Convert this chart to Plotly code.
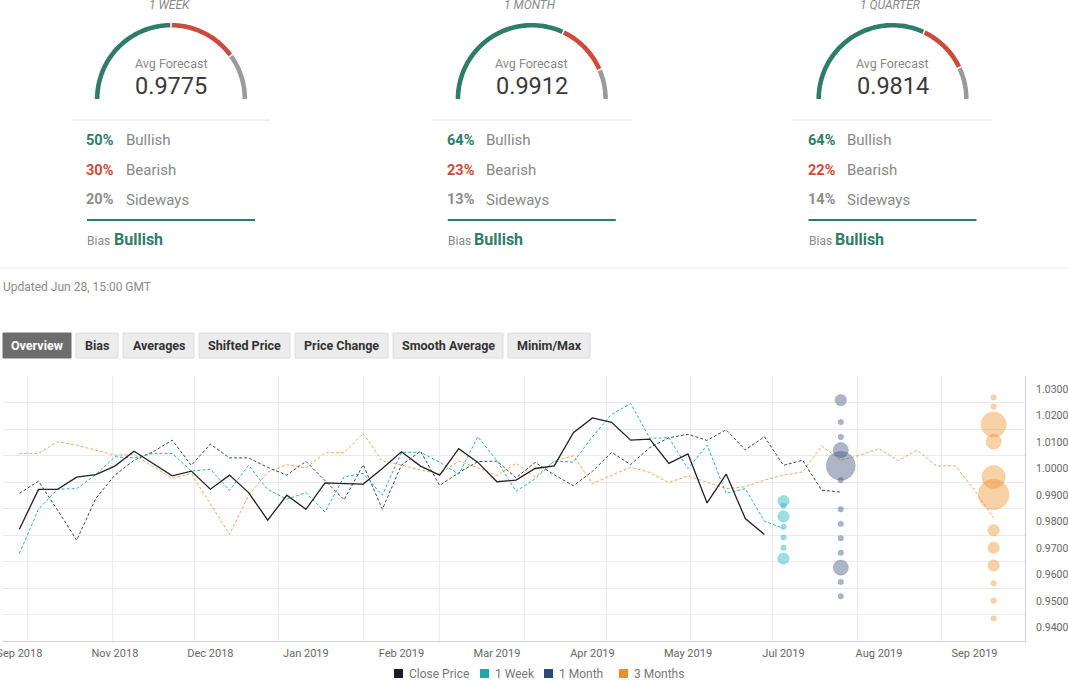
import math
import numpy as np
import pandas as pd
import plotly.graph_objects as go

# ---------------- DATA ----------------
first_friday = "2018-09-28"

close_price = [0.9772, 0.9922, 0.9922, 0.9968, 0.9978, 1.0010, 1.0066, 1.0020, 0.9973, 0.9991,
               0.9923, 0.9976, 0.9910, 0.9806, 0.9900, 0.9847, 0.9947, 0.9944, 0.9942, 1.0001,
               1.0064, 1.0010, 0.9976, 1.0076, 1.0024, 0.9951, 0.9957, 1.0001, 1.0011, 1.0136,
               1.0192, 1.0175, 1.0108, 1.0112, 1.0020, 1.0056, 0.9871, 0.9980, 0.9812, 0.9752]

week1 = [0.9680, 0.9847, 0.9923, 0.9925, 0.9978, 1.0045, 1.0041, 1.0058, 1.0058, 0.9991,
         0.9998, 0.9918, 1.0013, 0.9922, 0.9885, 0.9910, 0.9837, 0.9970, 0.9982, 0.9900,
         1.0062, 1.0062, 1.0025, 0.9979, 1.0121, 1.0030, 0.9915, 0.9962, 1.0029, 1.0025,
         1.0121, 1.0205, 1.0246, 1.0115, 1.0117, 1.0001, 1.0089, 0.9907, 0.9925, 0.9802,
         0.9775]

month1 = [0.9907, 0.9953, 0.9844, 0.9730, 0.9888, 0.9976, 1.0032, 1.0064, 1.0108, 1.0013,
          1.0093, 1.0041, 1.0041, 1.0005, 0.9976, 1.0028, 0.9955, 0.9883, 1.0015, 0.9847,
          1.0014, 1.0066, 0.9937, 0.9985, 1.0027, 1.0029, 0.9966, 1.0024, 0.9977, 0.9936,
          0.9990, 1.0062, 1.0016, 1.0080, 1.0117, 1.0130, 1.0107, 1.0147, 1.0071, 1.0121,
          1.0013, 1.0032, 0.9919, 0.9912]

months3 = [1.0058, 1.0058, 1.0102, 1.0089, 1.0070, 1.0051, 1.0054, 1.0007, 0.9963, 0.9982,
           0.9869, 0.9752, 0.9900, 0.9987, 1.0015, 1.0003, 1.0060, 1.0061, 1.0133, 1.0029,
           1.0014, 0.9995, 0.9980, 1.0029, 1.0004, 0.9974, 1.0020, 0.9969, 1.0029, 1.0049,
           0.9944, 0.9976, 1.0006, 0.9986, 0.9948, 0.9973, 0.9948, 0.9925, 0.9932, 0.9957,
           0.9976, 0.9988, 1.0086, 1.0032, 1.0051, 1.0076, 1.0031, 1.0070, 1.0011, 1.0011,
           0.9919, 0.9814]

week1_forecasts = [0.9878, 0.9860, 0.9820, 0.9781, 0.9741, 0.9702, 0.9661]
week1_counts = [2, 1, 2, 1, 1, 1, 2]
month1_forecasts = [1.0259, 1.0176, 1.0120, 1.0070, 1.0011, 0.9957, 0.9847, 0.9792,
                    0.9738, 0.9683, 0.9627, 0.9573, 0.9519]
month1_counts = [2, 1, 1, 3, 9, 1, 1, 1, 1, 1, 3, 1, 1]
months3_forecasts = [1.0269, 1.0235, 1.0167, 1.0102, 0.9969, 0.9903, 0.9768, 0.9702,
                     0.9635, 0.9568, 0.9502, 0.9435]
months3_counts = [1, 1, 7, 3, 6, 10, 2, 2, 2, 1, 1, 1]

gauge_titles = ["1 WEEK", "1 MONTH", "1 QUARTER"]
avg_forecast = [0.9775, 0.9912, 0.9814]
bullish_pct = [50, 64, 64]
bearish_pct = [30, 23, 22]
sideways_pct = [20, 13, 14]
bias_labels = ["Bullish", "Bullish", "Bullish"]

x_tick_dates = ["2018-09-28", "2018-11-02", "2018-12-07", "2019-01-11", "2019-02-15",
                "2019-03-22", "2019-04-26", "2019-05-31", "2019-07-05", "2019-08-09",
                "2019-09-13"]
x_tick_labels = ["Sep 2018", "Nov 2018", "Dec 2018", "Jan 2019", "Feb 2019", "Mar 2019",
                 "Apr 2019", "May 2019", "Jul 2019", "Aug 2019", "Sep 2019"]
y_tick_values = [0.94, 0.95, 0.96, 0.97, 0.98, 0.99, 1.00, 1.01, 1.02, 1.03]

series_names = ["Close Price", "1 Week", "1 Month", "3 Months"]
button_labels = ["Overview", "Bias", "Averages", "Shifted Price", "Price Change",
                 "Smooth Average", "Minim/Max"]
updated_text = "Updated Jun 28, 15:00 GMT"

# ---------------- STYLE ----------------
W, H = 1068, 681
ML, MR, MT, MB = 3, 43, 376, 40
PW, PH = W - ML - MR, H - MT - MB
FONT = "Roboto"
GREEN, RED, GREY = "#2e7d69", "#cc4b3c", "#9b9b9b"
C_CLOSE, C_W, C_M, C_Q = "#222222", "#2fb0b5", "#3b4a60", "#f2a65e"
LEG_COLORS = ["#1c1c28", "#1fa7aa", "#2c4a75", "#e8902c"]
Y_RANGE = [0.935, 1.035]
X_RANGE = ["2018-09-22", "2019-10-01 12:00"]


def P(x, y):
    return (x - ML) / PW, (H - MB - y) / PH


dates = pd.date_range(first_friday, periods=len(months3), freq="7D")

fig = go.Figure()
dash = "3px,2px"
fig.add_trace(go.Scatter(x=dates[:len(months3)], y=months3, mode="lines", name="3 Months",
                         line=dict(color=C_Q, width=1, dash=dash), hoverinfo="skip"))
fig.add_trace(go.Scatter(x=dates[:len(month1)], y=month1, mode="lines", name="1 Month",
                         line=dict(color=C_M, width=1, dash=dash), hoverinfo="skip"))
fig.add_trace(go.Scatter(x=dates[:len(week1)], y=week1, mode="lines", name="1 Week",
                         line=dict(color=C_W, width=1, dash=dash), hoverinfo="skip"))
fig.add_trace(go.Scatter(x=dates[:len(close_price)], y=close_price, mode="lines",
                         name="Close Price", line=dict(color=C_CLOSE, width=1.3),
                         hoverinfo="skip"))

all_counts = week1_counts + month1_counts + months3_counts
cmin, cmax = min(all_counts), max(all_counts)
dmin, dmax = 5.4, 30.6


def diam(c):
    pos = (c - cmin) / (cmax - cmin)
    return math.sqrt(dmin ** 2 + pos * (dmax ** 2 - dmin ** 2))


bubble_sets = [
    (week1_forecasts, week1_counts, dates[len(week1) - 1], (24, 178, 184)),
    (month1_forecasts, month1_counts, dates[len(month1) - 1], (60, 84, 122)),
    (months3_forecasts, months3_counts, dates[len(months3) - 1], (240, 148, 48)),
]
for vals, counts, xd, (r, g, b) in bubble_sets:
    fig.add_trace(go.Scatter(
        x=[xd] * len(vals), y=vals, mode="markers", xaxis="x2", yaxis="y2",
        marker=dict(size=[diam(c) for c in counts], sizemode="diameter",
                    color=f"rgba({r},{g},{b},0.6)",
                    line=dict(color=f"rgba({r},{g},{b},0.35)", width=1)),
        hoverinfo="skip", showlegend=False))

month_starts = pd.date_range("2018-10-01", "2019-09-01", freq="MS")
y_grid = [round(v - 0.005, 3) for v in y_tick_values] + [round(y_tick_values[-1] + 0.005, 3)]

fig.update_layout(
    width=W, height=H, margin=dict(l=ML, r=MR, t=MT, b=MB, autoexpand=False),
    paper_bgcolor="white", plot_bgcolor="white", showlegend=False,
    font=dict(family=FONT, color="#666"),
    xaxis=dict(type="date", range=X_RANGE, tickmode="array", tickvals=month_starts,
               showticklabels=False, automargin=False,
               showgrid=True, gridcolor="#ebebeb", gridwidth=1, zeroline=False,
               showline=True, linecolor="#ccd0da", linewidth=1, ticks=""),
    xaxis2=dict(type="date", range=X_RANGE, overlaying="x", anchor="y2", side="bottom",
                tickmode="array", tickvals=x_tick_dates, ticktext=x_tick_labels,
                showgrid=False, ticklabeloverflow="allow", automargin=False,
                zeroline=False, showline=False, ticks="", ticklabelstandoff=4,
                tickfont=dict(family=FONT, size=11, color="#666")),
    yaxis=dict(range=Y_RANGE, tickmode="array", tickvals=y_grid, showticklabels=False,
               automargin=False,
               showgrid=True, gridcolor="#ebebeb", gridwidth=1, zeroline=False, ticks=""),
    yaxis2=dict(range=Y_RANGE, overlaying="y", anchor="x2", side="right",
                tickmode="array", tickvals=y_tick_values,
                ticktext=[f"{v:.4f}" for v in y_tick_values], tickformat=".4f",
                showgrid=False, zeroline=False, showline=True, linecolor="#ccd0da",
                ticks="", ticklabelstandoff=8, ticklabeloverflow="allow",
                automargin=False,
                tickfont=dict(family=FONT, size=10.5, color="#666")),
)

shapes = []
ann = []


def text(x, y, s, size, color, xanchor="left", bold=False, italic=False):
    if bold:
        s = f"<b>{s}</b>"
    if italic:
        s = f"<i>{s}</i>"
    px, py = P(x, y)
    ann.append(dict(x=px, y=py, xref="paper", yref="paper", text=s, showarrow=False,
                    xanchor=xanchor, yanchor="middle",
                    font=dict(family=FONT, size=size, color=color)))


def hline(x0, x1, y, color, width):
    a, b_ = P(x0, y)
    c, _ = P(x1, y)
    shapes.append(dict(type="line", xref="paper", yref="paper", x0=a, x1=c, y0=b_, y1=b_,
                       line=dict(color=color, width=width)))


def arc(cx, cy, r, a0, a1, color, width=4.6, n=40):
    pts = []
    for i in range(n + 1):
        a = math.radians(a0 + (a1 - a0) * i / n)
        pts.append(P(cx + r * math.cos(a), cy - r * math.sin(a)))
    path = "M " + " L ".join(f"{x:.5f},{y:.5f}" for x, y in pts)
    shapes.append(dict(type="path", xref="paper", yref="paper", path=path,
                       line=dict(color=color, width=width)))


# ---------------- GAUGES ----------------
for i in range(3):
    cx = 171 + 360.75 * i
    cy, r = 99, 73.8
    g_end = 180 - 1.8 * bullish_pct[i]
    r_end = g_end - 1.8 * bearish_pct[i]
    gap = 0.6
    arc(cx, cy, r, 180, g_end + gap, GREEN)
    arc(cx, cy, r, g_end - gap, r_end + gap, RED)
    arc(cx, cy, r, r_end - gap, 0, GREY)
    text(cx - 2, 4.5, gauge_titles[i], 12, "#888", xanchor="center", italic=True)
    text(cx, 64, "Avg Forecast", 12.5, "#888", xanchor="center")
    text(cx, 86, f"{avg_forecast[i]:.4f}", 23.5, "#3a3a3a", xanchor="center")
    hline(cx - 100, cx + 99.5, 120, "#e2e2e2", 1)
    rows = [(bullish_pct[i], "Bullish", GREEN, 140),
            (bearish_pct[i], "Bearish", RED, 170),
            (sideways_pct[i], "Sideways", "#8c8c8c", 200)]
    for pct, lab, col, yy in rows:
        text(cx - 87, yy, f"{pct}%", 14.5, col, bold=True)
        text(cx - 47.5, yy, lab, 15, "#888")
    hline(cx - 84, cx + 84, 220, GREEN, 2)
    text(cx - 86, 241, "Bias", 12, "#888")
    text(cx - 59.5, 240, bias_labels[i], 16, GREEN, bold=True)

hline(0, W, 268, "#ececec", 1)
text(0.5, 287, updated_text, 12, "#8a8a8a")

# ---------------- BUTTONS ----------------
btn_edges = [(3, 71), (76, 118), (123, 194), (199, 290), (295, 388), (393, 503), (508, 590)]
for j, (lab, (x0, x1)) in enumerate(zip(button_labels, btn_edges)):
    a, b0 = P(x0, 358)
    c, b1 = P(x1, 333)
    active = j == 0
    shapes.append(dict(type="rect", xref="paper", yref="paper", x0=a, x1=c, y0=b0, y1=b1,
                       fillcolor="#6d6d6d" if active else "#ececec",
                       line=dict(color="#6d6d6d" if active else "#dcdcdc", width=1)))
    text((x0 + x1) / 2, 345.5, lab, 12.5, "white" if active else "#333",
         xanchor="center", bold=True)

# ---------------- LEGEND ----------------
leg_x = [394, 480, 544, 619]
for name, col, lx in zip(series_names, LEG_COLORS, leg_x):
    a, b0 = P(lx, 678)
    c, b1 = P(lx + 9, 669)
    shapes.append(dict(type="rect", xref="paper", yref="paper", x0=a, x1=c, y0=b0, y1=b1,
                       fillcolor=col, line=dict(width=0)))
    text(lx + 13, 673.5, name, 12, "#777")

fig.update_layout(shapes=shapes, annotations=ann)
fig.write_html("out.html", config={"displayModeBar": False},
               post_script="document.body.style.margin='0';document.body.style.padding='0';"
                           "document.body.style.overflow='hidden';")
